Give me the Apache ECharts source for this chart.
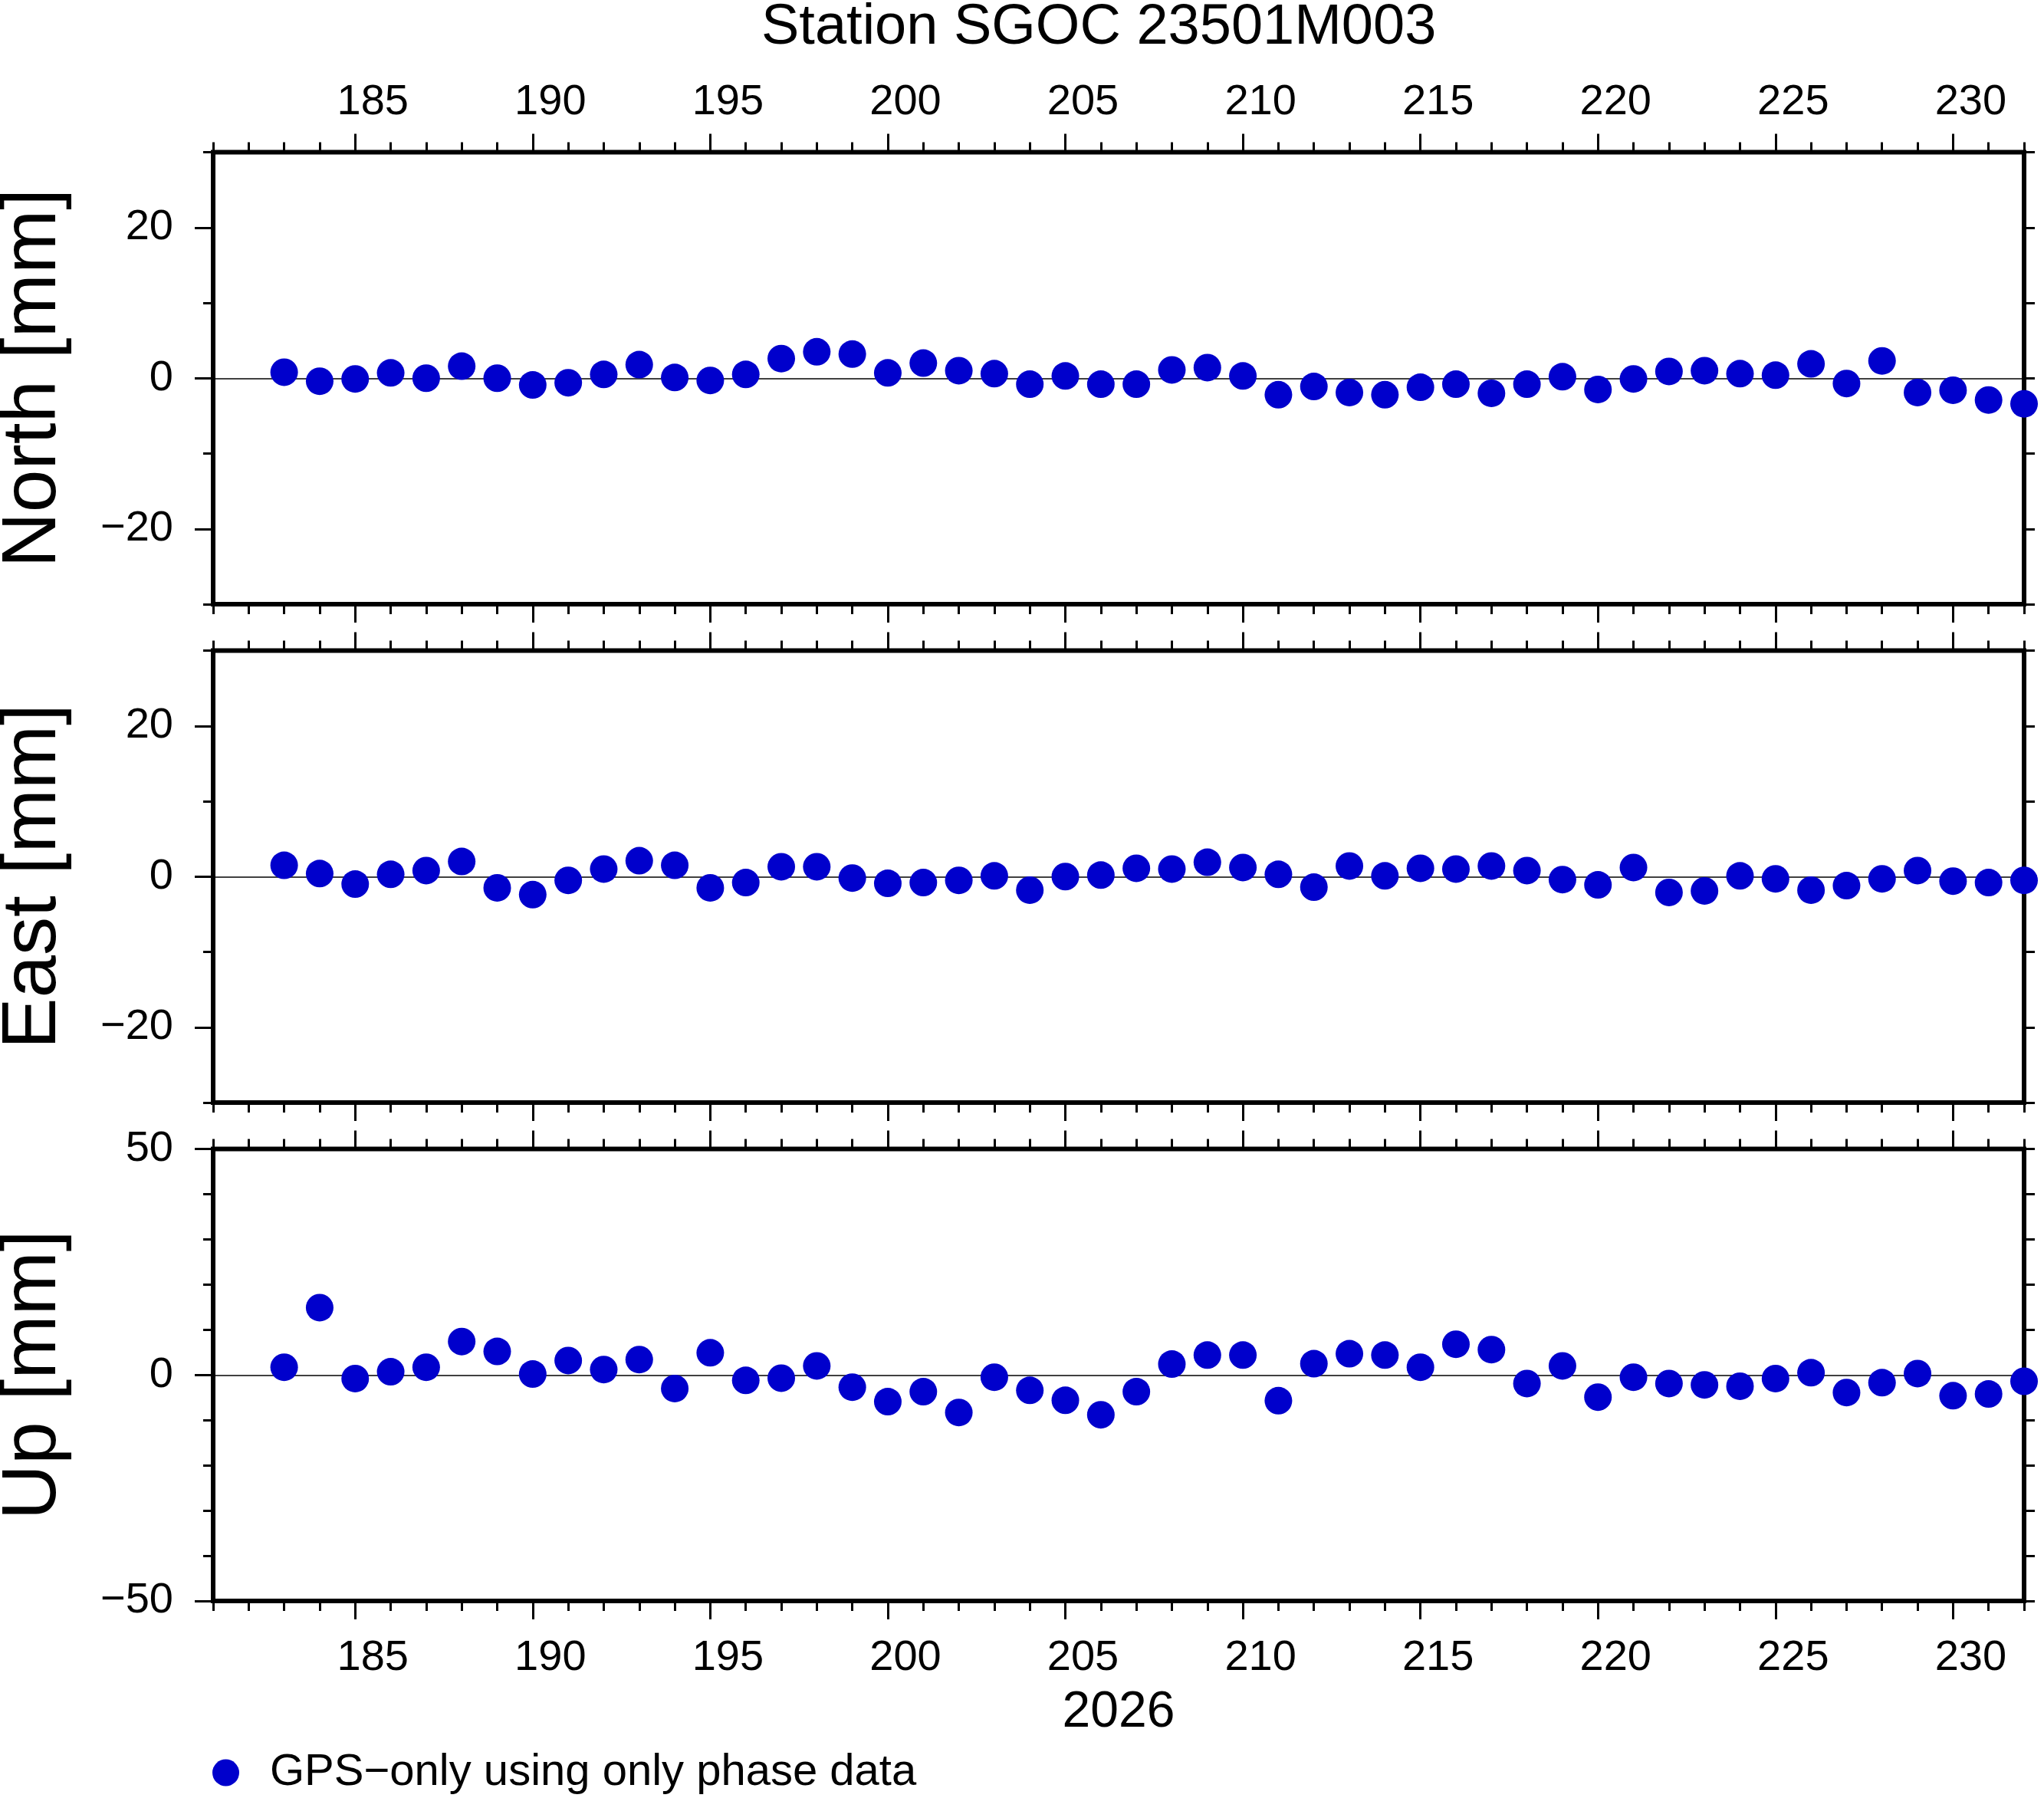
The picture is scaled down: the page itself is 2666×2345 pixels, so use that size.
<!DOCTYPE html>
<html>
<head>
<meta charset="utf-8">
<title>Station SGOC 23501M003</title>
<script src="https://cdn.jsdelivr.net/npm/echarts@6/dist/echarts.min.js"></script>
<style>
html, body { margin: 0; padding: 0; background: #fff; }
#chart { width: 2666px; height: 2345px; }
</style>
</head>
<body>
<div id="chart"></div>
<script>
// day of year 2026
var days = [183, 184, 185, 186, 187, 188, 189, 190, 191, 192,
            193, 194, 195, 196, 197, 198, 199, 200, 201, 202,
            203, 204, 205, 206, 207, 208, 209, 210, 211, 212,
            213, 214, 215, 216, 217, 218, 219, 220, 221, 222,
            223, 224, 225, 226, 227, 228, 229, 230, 231, 232];
// residuals [mm]
var north = [0.8, -0.4, -0.1, 0.7, 0.0, 1.6, 0.0, -0.9, -0.6, 0.5,
             1.8, 0.1, -0.3, 0.5, 2.6, 3.5, 3.2, 0.7, 2.0, 1.0,
             0.6, -0.8, 0.3, -0.8, -0.8, 1.1, 1.4, 0.3, -2.2, -1.1,
             -1.9, -2.2, -1.2, -0.8, -2.0, -0.8, 0.2, -1.5, -0.1, 0.9,
             1.0, 0.6, 0.4, 1.9, -0.7, 2.3, -1.9, -1.6, -2.9, -3.4];
var east = [1.5, 0.4, -1.0, 0.3, 0.8, 2.0, -1.5, -2.4, -0.5, 1.0,
            2.1, 1.5, -1.5, -0.8, 1.3, 1.3, -0.2, -0.9, -0.8, -0.5,
            0.1, -1.8, 0.0, 0.2, 1.1, 1.0, 1.9, 1.2, 0.3, -1.4,
            1.4, 0.1, 1.1, 1.0, 1.4, 0.8, -0.4, -1.1, 1.2, -2.1,
            -1.9, 0.1, -0.3, -1.8, -1.2, -0.3, 0.8, -0.6, -0.8, -0.5];
var up = [1.7, 14.9, -0.8, 0.7, 1.7, 7.4, 5.2, 0.2, 3.2, 1.2,
          3.4, -3.0, 4.9, -1.2, -0.7, 2.0, -2.7, -5.9, -3.7, -8.3,
          -0.5, -3.4, -5.6, -8.8, -3.7, 2.4, 4.4, 4.4, -5.7, 2.5,
          4.7, 4.4, 1.7, 6.8, 5.6, -1.9, 2.0, -4.9, -0.5, -1.9,
          -2.2, -2.5, -0.8, 0.5, -3.9, -1.7, 0.3, -4.6, -4.2, -1.4];

var dayTicks = [185, 190, 195, 200, 205, 210, 215, 220, 225, 230];
var neTicks = [-20, 0, 20];
var upTicks = [-50, 0, 50];

var seriesName = 'GPS\u2212only using only phase data';
var blue = '#0000cc';
var font = 'Liberation Sans, Arial, sans-serif';

var panels = [
  {name: 'North [mm]', values: north, lim: 30, ticks: neTicks},
  {name: 'East [mm]', values: east, lim: 30, ticks: neTicks},
  {name: 'Up [mm]', values: up, lim: 50, ticks: upTicks}
];

function minus(v) {
  return v < 0 ? '\u2212' + (-v) : '' + v;
}

var tickLine = {color: '#000', width: 3};
var noLine = {show: false, onZero: false};

var grids = [], xAxes = [], yAxes = [], series = [];

for (var i = 0; i < panels.length; i++) {
  var p = panels[i];
  grids.push({
    left: 278, top: 198.5 + i * 650, width: 2362, height: 589.5,
    outerBoundsMode: 'none', containLabel: false,
    show: true, borderColor: '#000', borderWidth: 6,
    backgroundColor: 'transparent'
  });

  // x axes: minor and major ticks, bottom and top
  ['bottom', 'top'].forEach(function (pos) {
    var labels = (pos === 'bottom' && i === 2) || (pos === 'top' && i === 0);
    xAxes.push({
      gridIndex: i, type: 'value', position: pos, min: 181, max: 232, interval: 1,
      axisLine: noLine, splitLine: {show: false}, axisLabel: {show: false},
      axisTick: {length: 13, lineStyle: tickLine}
    });
    xAxes.push({
      gridIndex: i, type: 'value', position: pos, min: 181, max: 232,
      axisLine: noLine, splitLine: {show: false},
      axisTick: {customValues: dayTicks, length: 24, lineStyle: tickLine},
      axisLabel: {
        show: labels, customValues: dayTicks,
        margin: pos === 'bottom' ? 47 : 37,
        padding: [0, 0, 0, 46],
        fontSize: 56, color: '#000', fontFamily: font
      },
      name: (pos === 'bottom' && i === 2) ? '2026' : '',
      nameLocation: 'middle', nameGap: 113,
      nameTextStyle: {fontSize: 66, color: '#000', fontFamily: font}
    });
  });

  // y axes
  yAxes.push({
    gridIndex: i, type: 'value', position: 'left', min: -p.lim, max: p.lim,
    axisLine: noLine, splitLine: {show: false},
    axisTick: {customValues: p.ticks, length: 24, lineStyle: tickLine},
    axisLabel: {
      customValues: p.ticks, margin: 52, formatter: minus,
      fontSize: 56, color: '#000', fontFamily: font
    },
    name: p.name, nameLocation: 'middle', nameRotate: 90, nameGap: 184,
    nameTextStyle: {fontSize: 100, color: '#000', fontFamily: font}
  });
  yAxes.push({
    gridIndex: i, type: 'value', position: 'left', min: -p.lim, max: p.lim, interval: 10,
    axisLine: noLine, splitLine: {show: false}, axisLabel: {show: false},
    axisTick: {length: 13, lineStyle: tickLine}
  });
  yAxes.push({
    gridIndex: i, type: 'value', position: 'right', min: -p.lim, max: p.lim, interval: 10,
    axisLine: noLine, splitLine: {show: false}, axisLabel: {show: false},
    axisTick: {length: 14, lineStyle: tickLine}
  });
  // zero line
  yAxes.push({
    gridIndex: i, type: 'value', position: 'left', min: -p.lim, max: p.lim, interval: p.lim,
    axisLine: noLine, axisLabel: {show: false}, axisTick: {show: false},
    splitLine: {show: true, lineStyle: {color: '#000', width: 1.5}}
  });

  var pts = [];
  for (var k = 0; k < days.length; k++) pts.push([days[k], p.values[k]]);
  series.push({
    name: seriesName, type: 'scatter', xAxisIndex: i * 4, yAxisIndex: i * 4,
    data: pts, symbol: 'circle', symbolSize: 36, clip: false,
    itemStyle: {color: blue, opacity: 1}, silent: true
  });
}

var chart = echarts.init(document.getElementById('chart'));
chart.setOption({
  animation: false,
  backgroundColor: '#fff',
  title: {
    text: 'Station SGOC 23501M003', left: 993, top: 0, padding: 0,
    textStyle: {fontSize: 74, fontWeight: 'normal', color: '#000', fontFamily: font}
  },
  legend: {
    data: [seriesName], left: 277, top: 2283, padding: 0,
    icon: 'circle', itemWidth: 35, itemHeight: 35,
    textStyle: {fontSize: 58, color: '#000', fontFamily: font, padding: [0, 0, 0, 35]}
  },
  grid: grids,
  xAxis: xAxes,
  yAxis: yAxes,
  series: series
});
</script>
</body>
</html>
